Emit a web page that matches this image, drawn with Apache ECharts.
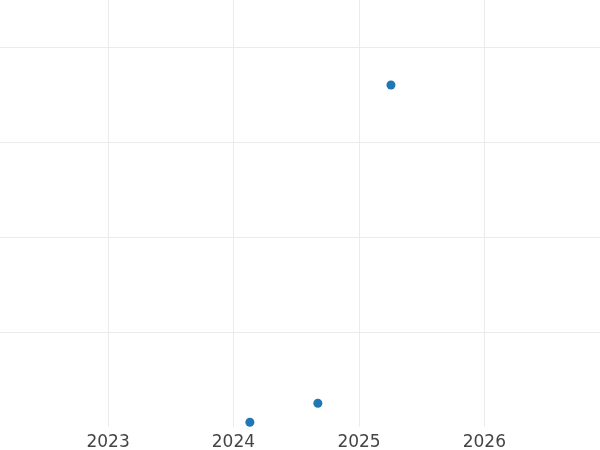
<!DOCTYPE html>
<html>
<head>
<meta charset="utf-8">
<script src="https://cdn.jsdelivr.net/npm/echarts@6/dist/echarts.min.js"></script>
<style>
  html, body { margin: 0; padding: 0; background: #fff; }
  #chart { width: 600px; height: 450px; }
</style>
</head>
<body>
<div id="chart"></div>
<script>
// data
var dates = ['2024-02-18', '2024-09-03', '2025-04-04'];
var values = [0.05, 0.25, 3.6];

var xMin = '2022-02-20';
var xMax = '2026-12-04';
var yMax = 4.495;

var chart = echarts.init(document.getElementById('chart'));

var option = {
  backgroundColor: '#fff',
  animation: false,
  grid: { left: 0, right: 0, top: 0, bottom: 23, containLabel: false, outerBoundsMode: 'none' },
  xAxis: {
    type: 'time',
    min: new Date(xMin).getTime(),
    max: new Date(xMax).getTime(),
    minInterval: 365 * 24 * 3600 * 1000,
    axisLine: { show: false },
    axisTick: { show: false },
    axisLabel: {
      formatter: '{yyyy}',
      color: '#444',
      fontSize: 17,
      fontFamily: 'DejaVu Sans',
      margin: 7,
      showMinLabel: false,
      showMaxLabel: false
    },
    splitLine: {
      show: true,
      showMinLine: false,
      showMaxLine: false,
      lineStyle: { color: '#ebebeb', width: 1 }
    }
  },
  yAxis: {
    type: 'value',
    min: 0,
    max: yMax,
    interval: 1,
    axisLine: { show: false },
    axisTick: { show: false },
    axisLabel: { show: false },
    splitLine: {
      show: true,
      showMinLine: false,
      showMaxLine: false,
      lineStyle: { color: '#ebebeb', width: 1 }
    }
  },
  series: [{
    type: 'scatter',
    symbolSize: 9,
    itemStyle: { color: '#1f77b4', opacity: 1 },
    data: dates.map(function (d, i) { return [new Date(d).getTime(), values[i]]; })
  }]
};

chart.setOption(option);
</script>
</body>
</html>
